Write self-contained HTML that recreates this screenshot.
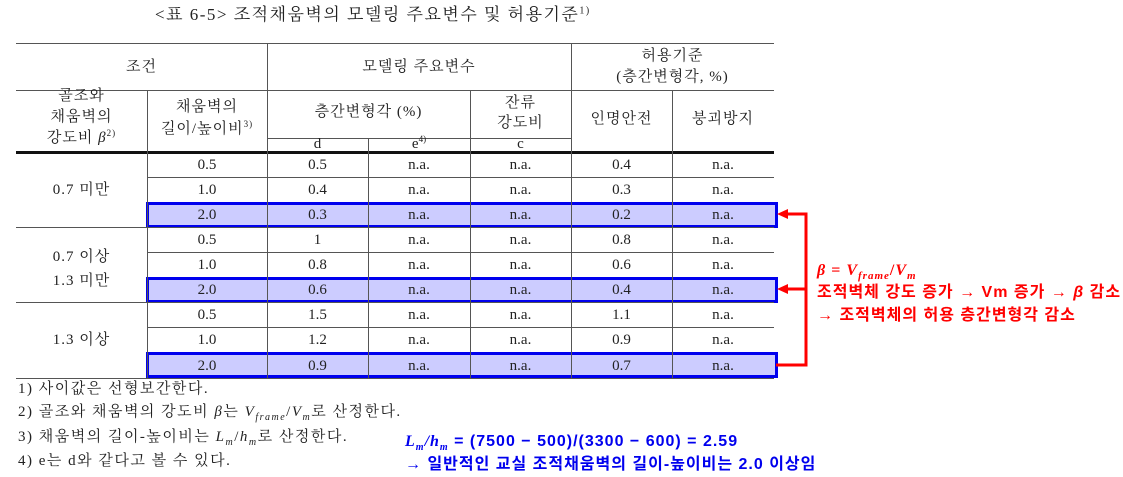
<!DOCTYPE html>
<html><head><meta charset="utf-8"><style>
body{margin:0;width:1123px;height:477px;background:#fff;position:relative;overflow:hidden;font-family:"Liberation Serif","Noto Serif CJK KR",serif;color:#222}
.t{position:absolute;white-space:nowrap;font-size:15px;line-height:18px;text-align:center;letter-spacing:1px}
.n{position:absolute;white-space:nowrap;font-size:15px;line-height:18px;text-align:center}
.h{position:absolute;background:#555}
.v{position:absolute;background:#555;width:1px}
.box{position:absolute;left:146px;width:626px;height:20px;border:3px solid #0000ee;background:#ccccff}
.r{position:absolute;font-family:"Liberation Sans","Noto Sans CJK KR",sans-serif;font-weight:bold;font-size:16px;white-space:nowrap;letter-spacing:1px}
sub,sup{line-height:0}
.f{position:absolute;left:18px;white-space:nowrap;font-size:15px;line-height:18px;letter-spacing:1.5px}
</style></head><body>
<div class="t" style="left:155px;top:6px;text-align:left;font-size:17px;letter-spacing:1.5px">&lt;표 6-5&gt; 조적채움벽의 모델링 주요변수 및 허용기준<sup style="font-size:10px">1)</sup></div>
<div class="box" style="top:202px"></div>
<div class="box" style="top:277px"></div>
<div class="box" style="top:352px"></div>
<div class="h" style="left:16px;width:758px;top:43px;height:1px"></div>
<div class="h" style="left:16px;width:758px;top:90px;height:1px"></div>
<div class="h" style="left:267px;width:304px;top:138px;height:1px"></div>
<div class="h" style="left:16px;width:758px;top:151px;height:3px;background:#111"></div>
<div class="h" style="left:147px;width:627px;top:177px;height:1px"></div>
<div class="h" style="left:16px;width:758px;top:227px;height:1px"></div>
<div class="h" style="left:147px;width:627px;top:252px;height:1px"></div>
<div class="h" style="left:16px;width:758px;top:302px;height:1px"></div>
<div class="h" style="left:147px;width:627px;top:327px;height:1px"></div>
<div class="h" style="left:16px;width:758px;top:378px;height:1px"></div>
<div class="v" style="left:267px;top:43px;height:335px"></div>
<div class="v" style="left:571px;top:43px;height:335px"></div>
<div class="v" style="left:147px;top:90px;height:288px"></div>
<div class="v" style="left:470px;top:90px;height:288px"></div>
<div class="v" style="left:672px;top:90px;height:288px"></div>
<div class="v" style="left:368px;top:138px;height:240px"></div>
<div class="t" style="left:16px;width:251px;top:58px">조건</div>
<div class="t" style="left:267px;width:304px;top:58px">모델링 주요변수</div>
<div class="t" style="left:571px;width:203px;top:46px;line-height:21px">허용기준<br>(층간변형각, %)</div>
<div class="t" style="left:16px;width:131px;top:86px;line-height:21px">골조와<br>채움벽의<br>강도비 <i>β</i><sup style="font-size:9px">2)</sup></div>
<div class="t" style="left:147px;width:120px;top:96px;line-height:22px">채움벽의<br>길이/높이비<sup style="font-size:9px">3)</sup></div>
<div class="t" style="left:267px;width:203px;top:103px">층간변형각 (%)</div>
<div class="t" style="left:470px;width:101px;top:93px;line-height:20px">잔류<br>강도비</div>
<div class="t" style="left:571px;width:101px;top:110px">인명안전</div>
<div class="t" style="left:672px;width:102px;top:110px">붕괴방지</div>
<div class="n" style="left:267px;width:101px;top:136px;line-height:16px">d</div>
<div class="n" style="left:368px;width:102px;top:136px;line-height:16px">e<sup style="font-size:9px">4)</sup></div>
<div class="n" style="left:470px;width:101px;top:136px;line-height:16px">c</div>
<div class="t" style="left:16px;width:131px;top:181px">0.7 미만</div>
<div class="t" style="left:16px;width:131px;top:245px;line-height:24px">0.7 이상<br>1.3 미만</div>
<div class="t" style="left:16px;width:131px;top:331px">1.3 이상</div>
<div class="n" style="left:147px;width:120px;top:156px">0.5</div><div class="n" style="left:267px;width:101px;top:156px">0.5</div><div class="n" style="left:368px;width:102px;top:156px">n.a.</div><div class="n" style="left:470px;width:101px;top:156px">n.a.</div><div class="n" style="left:571px;width:101px;top:156px">0.4</div><div class="n" style="left:672px;width:102px;top:156px">n.a.</div>
<div class="n" style="left:147px;width:120px;top:181px">1.0</div><div class="n" style="left:267px;width:101px;top:181px">0.4</div><div class="n" style="left:368px;width:102px;top:181px">n.a.</div><div class="n" style="left:470px;width:101px;top:181px">n.a.</div><div class="n" style="left:571px;width:101px;top:181px">0.3</div><div class="n" style="left:672px;width:102px;top:181px">n.a.</div>
<div class="n" style="left:147px;width:120px;top:206px">2.0</div><div class="n" style="left:267px;width:101px;top:206px">0.3</div><div class="n" style="left:368px;width:102px;top:206px">n.a.</div><div class="n" style="left:470px;width:101px;top:206px">n.a.</div><div class="n" style="left:571px;width:101px;top:206px">0.2</div><div class="n" style="left:672px;width:102px;top:206px">n.a.</div>
<div class="n" style="left:147px;width:120px;top:231px">0.5</div><div class="n" style="left:267px;width:101px;top:231px">1</div><div class="n" style="left:368px;width:102px;top:231px">n.a.</div><div class="n" style="left:470px;width:101px;top:231px">n.a.</div><div class="n" style="left:571px;width:101px;top:231px">0.8</div><div class="n" style="left:672px;width:102px;top:231px">n.a.</div>
<div class="n" style="left:147px;width:120px;top:256px">1.0</div><div class="n" style="left:267px;width:101px;top:256px">0.8</div><div class="n" style="left:368px;width:102px;top:256px">n.a.</div><div class="n" style="left:470px;width:101px;top:256px">n.a.</div><div class="n" style="left:571px;width:101px;top:256px">0.6</div><div class="n" style="left:672px;width:102px;top:256px">n.a.</div>
<div class="n" style="left:147px;width:120px;top:281px">2.0</div><div class="n" style="left:267px;width:101px;top:281px">0.6</div><div class="n" style="left:368px;width:102px;top:281px">n.a.</div><div class="n" style="left:470px;width:101px;top:281px">n.a.</div><div class="n" style="left:571px;width:101px;top:281px">0.4</div><div class="n" style="left:672px;width:102px;top:281px">n.a.</div>
<div class="n" style="left:147px;width:120px;top:306px">0.5</div><div class="n" style="left:267px;width:101px;top:306px">1.5</div><div class="n" style="left:368px;width:102px;top:306px">n.a.</div><div class="n" style="left:470px;width:101px;top:306px">n.a.</div><div class="n" style="left:571px;width:101px;top:306px">1.1</div><div class="n" style="left:672px;width:102px;top:306px">n.a.</div>
<div class="n" style="left:147px;width:120px;top:331px">1.0</div><div class="n" style="left:267px;width:101px;top:331px">1.2</div><div class="n" style="left:368px;width:102px;top:331px">n.a.</div><div class="n" style="left:470px;width:101px;top:331px">n.a.</div><div class="n" style="left:571px;width:101px;top:331px">0.9</div><div class="n" style="left:672px;width:102px;top:331px">n.a.</div>
<div class="n" style="left:147px;width:120px;top:357px">2.0</div><div class="n" style="left:267px;width:101px;top:357px">0.9</div><div class="n" style="left:368px;width:102px;top:357px">n.a.</div><div class="n" style="left:470px;width:101px;top:357px">n.a.</div><div class="n" style="left:571px;width:101px;top:357px">0.7</div><div class="n" style="left:672px;width:102px;top:357px">n.a.</div>
<div class="f" style="top:380px">1) 사이값은 선형보간한다.</div>
<div class="f" style="top:403px">2) 골조와 채움벽의 강도비 <i>β</i>는 <i>V<sub style="font-size:10px">frame</sub></i>/<i>V<sub style="font-size:10px">m</sub></i>로 산정한다.</div>
<div class="f" style="top:428px">3) 채움벽의 길이-높이비는 <i>L<sub style="font-size:10px">m</sub></i>/<i>h<sub style="font-size:10px">m</sub></i>로 산정한다.</div>
<div class="f" style="top:452px">4) e는 d와 같다고 볼 수 있다.</div>
<svg style="position:absolute;left:0;top:0" width="1123" height="477">
<g stroke="#ff0000" stroke-width="3" fill="none"><polyline points="776,365 806,365 806,214 786,214"/><line x1="806" y1="289" x2="786" y2="289"/></g>
<polygon points="777,214 788,209 788,219" fill="#ff0000"/><polygon points="777,289 788,284 788,294" fill="#ff0000"/>
</svg>
<div class="r" style="left:817px;top:259px;color:#ff0000;line-height:23px;font-family:'Liberation Serif','Noto Serif CJK KR',serif;font-size:16px"><i>β</i> = <i>V<sub style="font-size:11px">frame</sub></i>/<i>V<sub style="font-size:11px">m</sub></i></div>
<div class="r" style="left:817px;top:281px;color:#ff0000;line-height:23px">조적벽체 강도 증가 → Vm 증가 → <i>β</i> 감소<br>→ 조적벽체의 허용 층간변형각 감소</div>
<div class="r" style="left:405px;top:430px;color:#0000ee;line-height:23px"><i style="font-family:'Liberation Serif',serif">L<sub style="font-size:10px">m</sub>/h<sub style="font-size:10px">m</sub></i> = (7500 − 500)/(3300 − 600) = 2.59<br>→ 일반적인 교실 조적채움벽의 길이-높이비는 2.0 이상임</div>
</body></html>
